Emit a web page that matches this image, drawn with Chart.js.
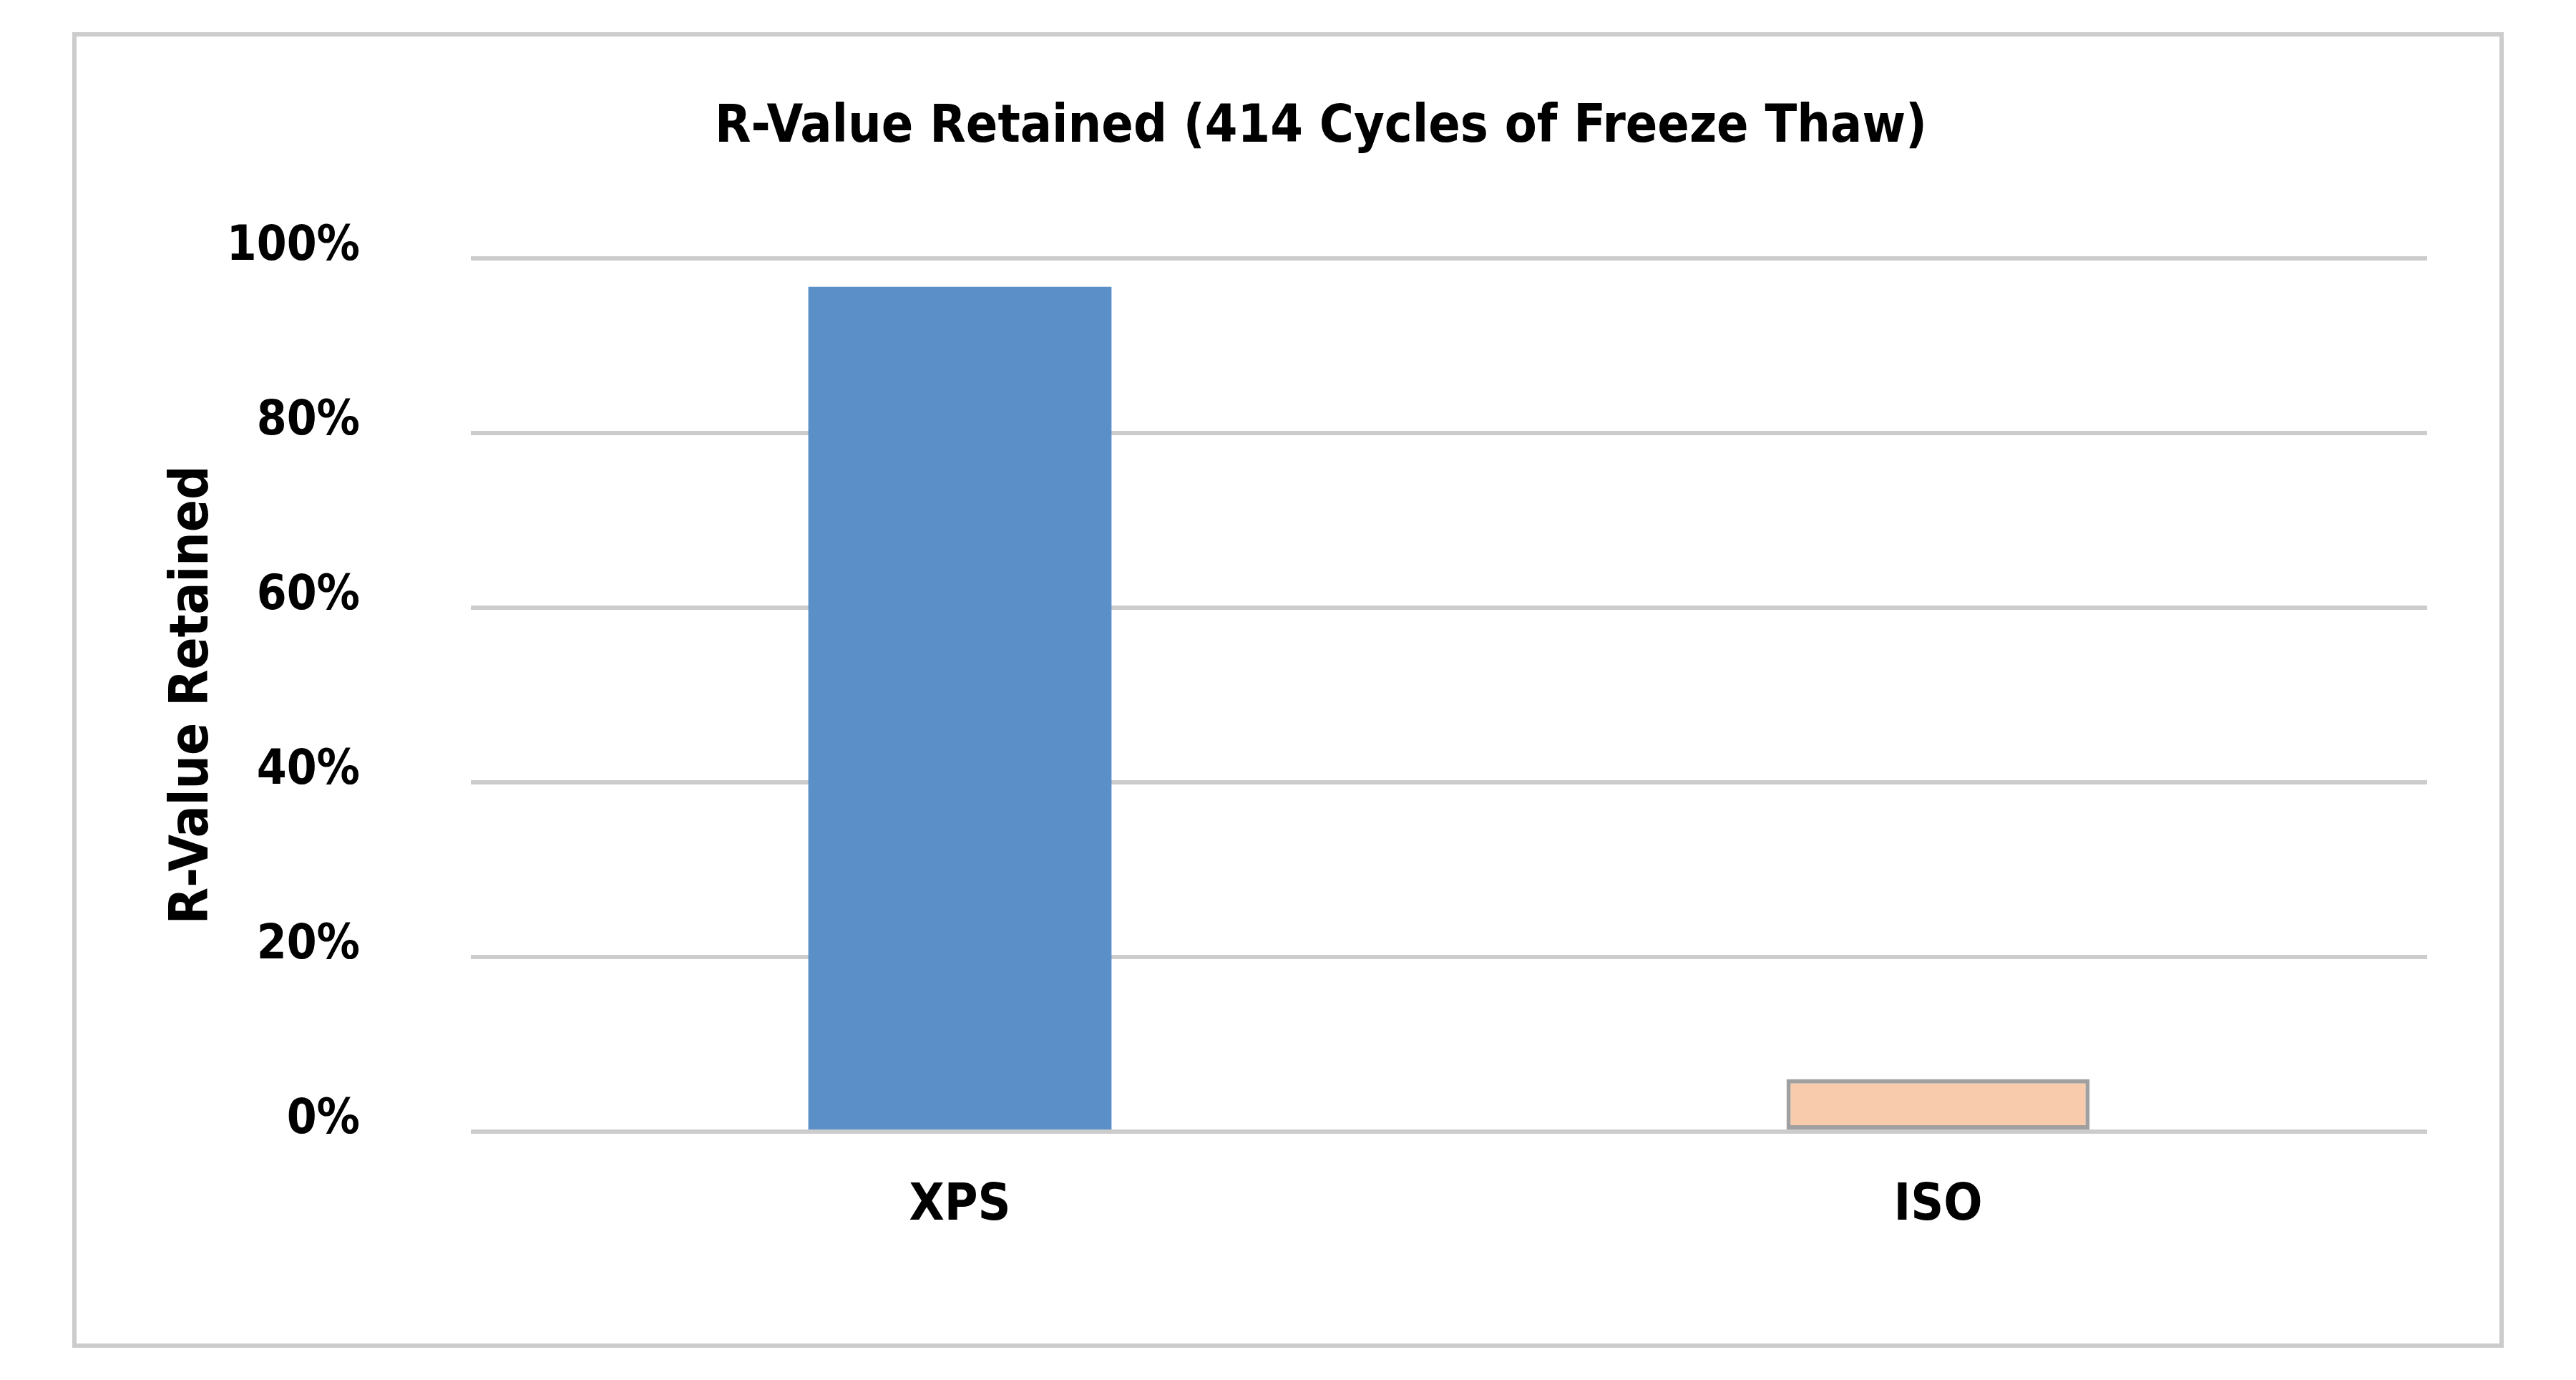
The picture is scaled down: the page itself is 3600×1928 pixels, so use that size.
<!DOCTYPE html>
<html>
<head>
<meta charset="utf-8">
<script src="https://cdn.jsdelivr.net/npm/chart.js@4/dist/chart.umd.min.js"></script>
<style>
  html, body { margin: 0; padding: 0; background: #ffffff; }
  #wrap { width: 3600px; height: 1928px; position: relative; }
  canvas { display: block; }
</style>
</head>
<body>
<div id="wrap"><canvas id="c" width="3600" height="1928"></canvas></div>
<script>
// ---- data ----
const categories = ["XPS", "ISO"];
const retainedValues = [96.7, 6.0];
const yTickValues = [0, 20, 40, 60, 80, 100];
const chartTitle = "R-Value Retained (414 Cycles of Freeze Thaw)";
const yAxisTitle = "R-Value Retained";

// ---- styles ----
const barFill = ["#5B8FC7", "#F8CBAD"];
const barBorder = ["#5B8FC7", "#A0A0A0"];
const barBorderWidth = [0, 6];
const narrow = "'Liberation Sans Narrow', 'DejaVu Sans Condensed', 'Liberation Sans', sans-serif";

const framePlugin = {
  id: 'frame',
  beforeDraw(chart) {
    const ctx = chart.ctx;
    ctx.save();
    ctx.fillStyle = '#ffffff';
    ctx.fillRect(0, 0, chart.width, chart.height);
    ctx.strokeStyle = '#cccccc';
    ctx.lineWidth = 6;
    ctx.strokeRect(104, 48, 3392, 1832);
    ctx.restore();
  }
};

new Chart(document.getElementById('c'), {
  type: 'bar',
  data: {
    labels: categories,
    datasets: [{
      data: retainedValues,
      backgroundColor: barFill,
      borderColor: barBorder,
      borderWidth: barBorderWidth,
      borderSkipped: false,
      categoryPercentage: 1.0,
      barPercentage: 0.31
    }]
  },
  options: {
    responsive: false,
    animation: false,
    devicePixelRatio: 1,
    layout: { padding: { left: 300, right: 208, top: 0, bottom: 0 } },
    plugins: {
      legend: { display: false },
      tooltip: { enabled: false },
      title: {
        display: true,
        text: chartTitle,
        color: '#000000',
        font: { family: narrow, size: 73, weight: 'bold', lineHeight: 1.2 },
        padding: { top: 135, bottom: 138 }
      }
    },
    scales: {
      x: {
        grid: { display: false, drawTicks: false },
        border: { display: false },
        ticks: {
          color: '#000000',
          padding: 62,
          font: { family: narrow, size: 71, weight: 'bold', lineHeight: 1.2 }
        },
        afterFit(scale) { scale.height = 347; }
      },
      y: {
        min: 0,
        max: 100,
        afterBuildTicks(scale) { scale.ticks = yTickValues.map(v => ({ value: v })); },
        grid: { color: '#cccccc', lineWidth: 6, drawTicks: false },
        border: { display: false },
        ticks: {
          color: '#000000',
          padding: 155,
          labelOffset: -15,
          font: { family: narrow, size: 67, weight: 'bold', lineHeight: 1.2 },
          callback: (v) => v + '%'
        },
        title: {
          display: true,
          text: yAxisTitle,
          color: '#000000',
          font: { family: "'DejaVu Sans Condensed', 'DejaVu Sans', sans-serif", size: 74, weight: 'bold', lineHeight: 1.2 },
          padding: { top: -74, bottom: 0 }
        },
        afterFit(scale) { scale.width = 358; }
      }
    }
  },
  plugins: [framePlugin]
});
</script>
</body>
</html>
